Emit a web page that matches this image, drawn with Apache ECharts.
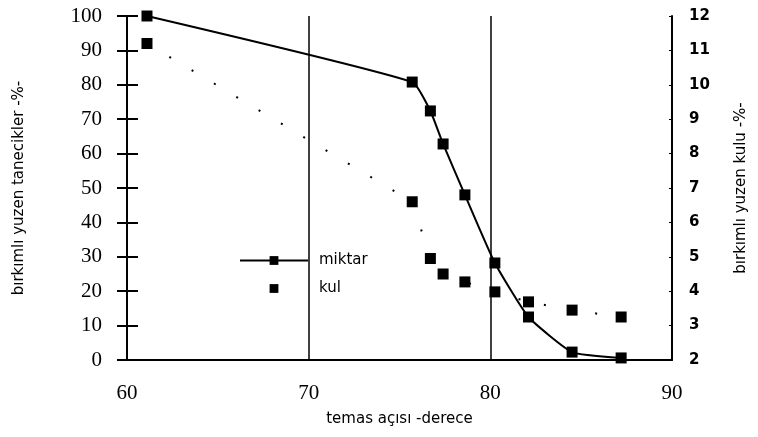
<!DOCTYPE html>
<html>
<head>
<meta charset="utf-8">
<script src="https://cdn.jsdelivr.net/npm/echarts@6/dist/echarts.min.js"></script>
<style>
  html, body { margin: 0; padding: 0; background: #fff; }
  #chart { width: 758px; height: 437px; }
</style>
</head>
<body>
<div id="chart"></div>
<script>
  // temas açısı (derece)
  const aci = [61.1, 75.7, 76.7, 77.4, 78.6, 80.25, 82.1, 84.5, 87.2];
  // miktar, sol eksen (%)
  const miktar = [100, 80.8, 72.4, 62.8, 48, 28.2, 12.5, 2.3, 0.6];
  // kul, sag eksen (%)
  const kul = [11.2, 6.6, 4.95, 4.5, 4.27, 3.98, 3.69, 3.45, 3.25];

  const xTicks = [60, 70, 80, 90];
  const leftTicks = [0, 100, 10];   // min, max, interval
  const rightTicks = [2, 12, 1];

  const serif = 'Liberation Serif';
  const sans = 'DejaVu Sans';

  let myChart = echarts.init(document.getElementById('chart'));
  myChart.setOption({
    animation: false,
    grid: { left: 127, right: 86, top: 16, bottom: 77 },
    legend: {
      orient: 'vertical',
      left: 234,
      top: 248,
      itemWidth: 68,
      itemHeight: 11,
      itemGap: 13,
      textStyle: { fontFamily: sans, fontSize: 15, color: '#000', padding: [0, 0, 0, 6] },
      data: [
        { name: 'miktar' },
        { name: 'kul', lineStyle: { opacity: 0 } }
      ]
    },
    xAxis: {
      type: 'value',
      min: xTicks[0],
      max: xTicks[xTicks.length - 1],
      interval: 10,
      name: 'temas açısı -derece',
      nameLocation: 'middle',
      nameGap: 52,
      nameTextStyle: { fontFamily: sans, fontSize: 15, color: '#000' },
      axisLine: { lineStyle: { color: '#000', width: 2 } },
      axisTick: { show: false },
      axisLabel: { fontFamily: serif, fontSize: 21, color: '#000', margin: 23 },
      splitLine: { show: true, lineStyle: { color: '#000', width: 1.5 } }
    },
    yAxis: [
      {
        type: 'value',
        min: leftTicks[0],
        max: leftTicks[1],
        interval: leftTicks[2],
        name: 'bırkımlı yuzen tanecikler -%-',
        nameLocation: 'middle',
        nameGap: 100,
        nameTextStyle: { fontFamily: sans, fontSize: 15, color: '#000' },
        axisLine: { show: true, lineStyle: { color: '#000', width: 2 } },
        axisTick: { show: true, length: 10, lineStyle: { color: '#000', width: 2 } },
        axisLabel: { fontFamily: serif, fontSize: 21, color: '#000', margin: 25 },
        splitLine: { show: false }
      },
      {
        type: 'value',
        position: 'right',
        min: rightTicks[0],
        max: rightTicks[1],
        interval: rightTicks[2],
        name: 'bırkımlı yuzen kulu -%-',
        nameLocation: 'middle',
        nameGap: 62,
        nameTextStyle: { fontFamily: sans, fontSize: 15, color: '#000' },
        axisLine: { show: true, lineStyle: { color: '#000', width: 2 } },
        axisTick: { show: true, inside: true, length: 3, lineStyle: { color: '#000' } },
        axisLabel: { fontFamily: sans, fontSize: 15, fontWeight: 'bold', color: '#000', margin: 17 },
        splitLine: { show: false }
      },
      {
        // ic tarafa dogru tikler (sol eksen)
        type: 'value',
        position: 'left',
        min: leftTicks[0],
        max: leftTicks[1],
        interval: leftTicks[2],
        axisLine: { show: false },
        axisTick: { show: true, inside: true, length: 11, lineStyle: { color: '#000', width: 2 } },
        axisLabel: { show: false },
        splitLine: { show: false }
      }
    ],
    series: [
      {
        name: 'miktar',
        type: 'line',
        yAxisIndex: 0,
        smooth: 0.15,
        symbol: 'rect',
        symbolSize: 11,
        itemStyle: { color: '#000' },
        lineStyle: { color: '#000', width: 2 },
        data: aci.map((x, i) => [x, miktar[i]])
      },
      {
        name: 'kul',
        type: 'line',
        yAxisIndex: 1,
        symbol: 'rect',
        symbolSize: 11,
        itemStyle: { color: '#000' },
        lineStyle: { color: '#000', width: 2, type: [2, 24] },
        data: aci.map((x, i) => [x, kul[i]])
      }
    ]
  });
</script>
</body>
</html>
